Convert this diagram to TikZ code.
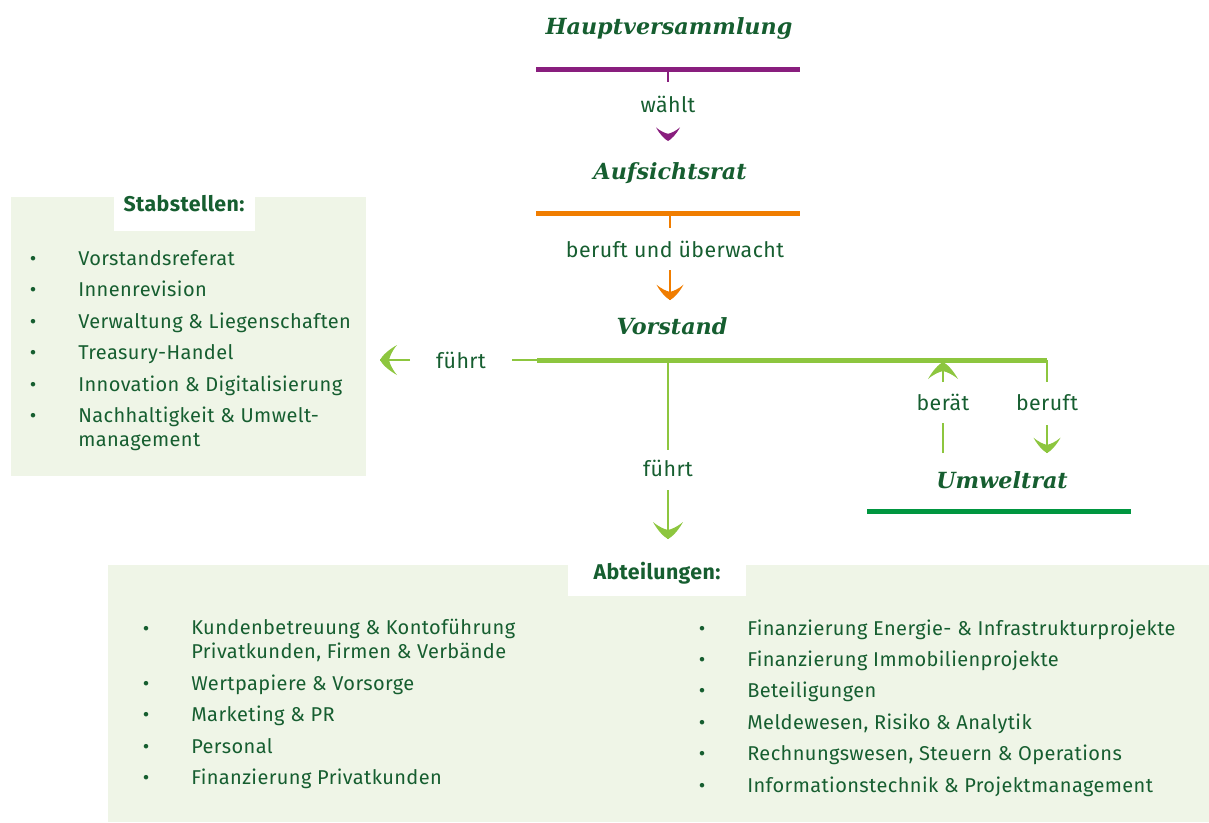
\documentclass[tikz,border=0pt]{standalone}
\usepackage{fontspec}
\setmainfont{Fira Sans}[LetterSpace=2]
\newfontfamily\ttlfont{DejaVu Serif}
\definecolor{textC}{RGB}{22,94,48}
\definecolor{purpleC}{RGB}{137,30,126}
\definecolor{orangeC}{RGB}{240,125,0}
\definecolor{lgreenC}{RGB}{141,198,63}
\definecolor{dgreenC}{RGB}{0,150,64}
\definecolor{boxC}{RGB}{239,245,231}
\tikzset{
  txt/.style={text=textC, font=\fontsize{15}{17.3}\selectfont, inner sep=0pt},
  lbl/.style={txt, font=\fontsize{16}{18}\selectfont},
  ttl/.style={text=textC, font=\ttlfont\bfseries\itshape\fontsize{16.7}{20}\selectfont, inner sep=0pt},
  hdr/.style={text=textC, font=\bfseries\fontsize{16}{18}\selectfont, inner sep=0pt},
  item/.style={txt, anchor=base west, align=left},
  bul/.style={txt, anchor=base},
  bar/.style={line width=3.75pt},
  conn/.style={line width=1.1pt},
  ahead/.pic={\fill[#1] (0,0) .. controls (-4,-2) and (-10,-8) .. (-15,-17)
     .. controls (-9,-12) and (-4,-10) .. (0,-9)
     .. controls (4,-10) and (9,-12) .. (15,-17)
     .. controls (10,-8) and (4,-2) .. (0,0) -- cycle;}
}
\begin{document}
\begin{tikzpicture}[x=0.75pt,y=-0.75pt]
\useasboundingbox (0,0) rectangle (1209,822);
% boxes
\fill[boxC] (11,197) rectangle (366,476);
\fill[white] (114,190) rectangle (255,231);
\fill[boxC] (108,565) rectangle (1209,822);
\fill[white] (568,565) rectangle (746,596);

% Hauptversammlung
\node[ttl] (hv) at (669,29) {Hauptversammlung};
\coordinate (hvL) at (536,69); \coordinate (hvR) at (800,69); \coordinate (hvM) at (668,69);
\draw[bar,purpleC] (hvL) -- (hvR);
\node[lbl] (waehlt) at (668,104) {wählt};
\coordinate (waehltT) at (668,82);
\draw[conn,purpleC] (hvM) -- (waehltT);
\coordinate (arA) at (668,141);
\pic[scale=0.8] at (arA) {ahead=purpleC};

% Aufsichtsrat
\node[ttl] (ar) at (670,173) {Aufsichtsrat};
\coordinate (arL) at (536,213); \coordinate (arR) at (800,213); \coordinate (arM) at (670,213);
\draw[bar,orangeC] (arL) -- (arR);
\node[lbl] (beruwa) at (675,249) {beruft und überwacht};
\coordinate (arT) at (670,228);
\draw[conn,orangeC] (arM) -- (arT);
\coordinate (vsS) at (670,270); \coordinate (vsA) at (670,300);
\draw[conn,orangeC] (vsS) -- (vsA);
\pic[scale=0.9] at (vsA) {ahead=orangeC};

% Vorstand
\node[ttl] (vs) at (672,326) {Vorstand};
\coordinate (vsL) at (537,360); \coordinate (vsR) at (1047,360); \coordinate (vsM) at (668,360);
\coordinate (vsLL) at (512,360);
\draw[bar,lgreenC] (vsL) -- (vsR);
\draw[conn,lgreenC] (vsLL) -- (vsL);
% left fuehrt
\node[lbl] (fl) at (461,360) {führt};
\coordinate (flS) at (410,360); \coordinate (flA) at (380,360);
\draw[conn,lgreenC] (flS) -- (flA);
\pic[rotate=-90] at (flA) {ahead=lgreenC};
% down fuehrt
\node[lbl] (fd) at (668,468) {führt};
\coordinate (fdT) at (668,450);
\draw[conn,lgreenC] (vsM) -- (fdT);
\coordinate (fdS) at (668,490); \coordinate (fdA) at (668,539);
\draw[conn,lgreenC] (fdS) -- (fdA);
\pic at (fdA) {ahead=lgreenC};
% beraet
\node[lbl] (ber) at (943,402) {berät};
\coordinate (berB) at (943,453); \coordinate (berBT) at (943,423);
\draw[conn,lgreenC] (berB) -- (berBT);
\coordinate (berS) at (943,382); \coordinate (berA) at (943,362);
\draw[conn,lgreenC] (berS) -- (berA);
\pic[rotate=180] at (berA) {ahead=lgreenC};
% beruft
\node[lbl] (bf) at (1047,403) {beruft};
\coordinate (bfT) at (1047,382);
\draw[conn,lgreenC] (vsR) -- (bfT);
\coordinate (bfS) at (1047,425); \coordinate (bfA) at (1047,453);
\draw[conn,lgreenC] (bfS) -- (bfA);
\pic[scale=0.9] at (bfA) {ahead=lgreenC};

% Umweltrat
\node[ttl] (uw) at (1002,480) {Umweltrat};
\coordinate (uwL) at (867,511); \coordinate (uwR) at (1131,511);
\draw[bar,dgreenC] (uwL) -- (uwR);

% Stabstellen
\node[hdr] (stabh) at (184,204) {Stabstellen:};
\foreach \y/\t [count=\i] in {259/Vorstandsreferat, 290/Innenrevision, 322/Verwaltung \& Liegenschaften, 353/Treasury-Handel, 385/Innovation \& Digitalisierung}{
  \node[bul] (sb\i) at (33,\y+6) {•};
  \node[item] (si\i) at (78,\y+6) {\t};
}
\node[bul] (sb6) at (33,416+6) {•};
\node[item] (si6) at (78,440+6) {Nachhaltigkeit \& Umwelt-\\management};

% Abteilungen
\node[hdr] (abth) at (657,573) {Abteilungen:};
\node[bul] (al1b) at (146,629+6) {•};
\node[item] (al1) at (191,652+6) {Kundenbetreuung \& Kontoführung\\Privatkunden, Firmen \& Verbände};
\foreach \y/\t [count=\i from 2] in {684/Wertpapiere \& Vorsorge, 715/Marketing \& PR, 747/Personal, 778/Finanzierung Privatkunden}{
  \node[bul] (al\i b) at (146,\y+6) {•};
  \node[item] (al\i) at (191,\y+6) {\t};
}
\foreach \y/\t [count=\i] in {629/Finanzierung Energie- \& Infrastrukturprojekte, 660/Finanzierung Immobilienprojekte, 691/Beteiligungen, 723/{Meldewesen, Risiko \& Analytik}, 754/{Rechnungswesen, Steuern \& Operations}, 786/Informationstechnik \& Projektmanagement}{
  \node[bul] (ar\i b) at (702,\y+6) {•};
  \node[item] (ar\i) at (747,\y+6) {\t};
}
\end{tikzpicture}
\end{document}
